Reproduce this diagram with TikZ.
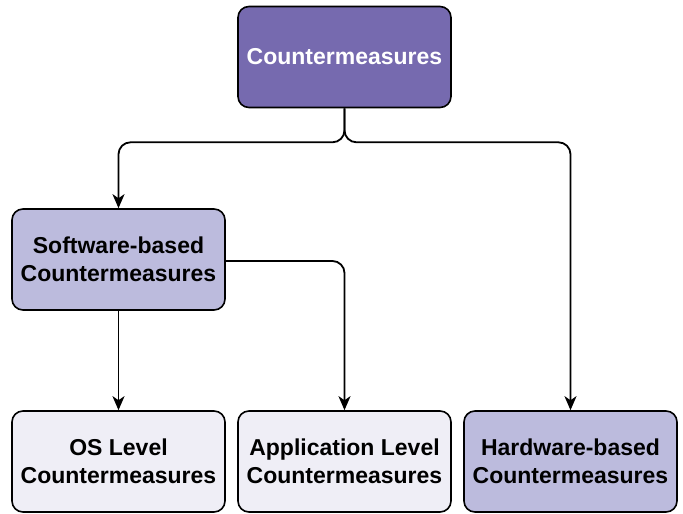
\documentclass[tikz,border=0pt]{standalone}
\usepackage{fontspec}
\setmainfont{Liberation Sans}
\usetikzlibrary{arrows.meta}
\definecolor{topc}{HTML}{766AAF}
\definecolor{midc}{HTML}{BCBBDD}
\definecolor{lowc}{HTML}{EFEEF6}
\tikzset{
  box/.style={draw=black, line width=1.6pt, rounded corners=11pt, minimum width=213pt, minimum height=101pt, inner sep=0pt, align=center, font=\fontsize{23}{28}\selectfont\bfseries},
  conn/.style={line width=1.8pt, rounded corners=12pt, -{Stealth[length=14pt,width=12pt,inset=4pt]}}
}
\begin{document}
\begin{tikzpicture}[x=1pt,y=-1pt]
\useasboundingbox (0,0) rectangle (683,514);
\node[box, fill=topc, text=white] (top) at (344.5,57) {Countermeasures};
\node[box, fill=midc] (sw) at (118.5,259.5) {Software-based\\Countermeasures};
\node[box, fill=lowc] (os) at (118.5,461.5) {OS Level\\Countermeasures};
\node[box, fill=lowc] (app) at (344.5,461.5) {Application Level\\Countermeasures};
\node[box, fill=midc] (hw) at (570.5,461.5) {Hardware-based\\Countermeasures};
\draw[conn] (top.south) -- ++(0,34) -| (sw.north);
\draw[conn] (top.south) -- ++(0,34) -| (hw.north);
\draw[conn] (sw.south) -- (os.north);
\draw[conn] (sw.east |- 0,261) -| (app.north);
\end{tikzpicture}
\end{document}
